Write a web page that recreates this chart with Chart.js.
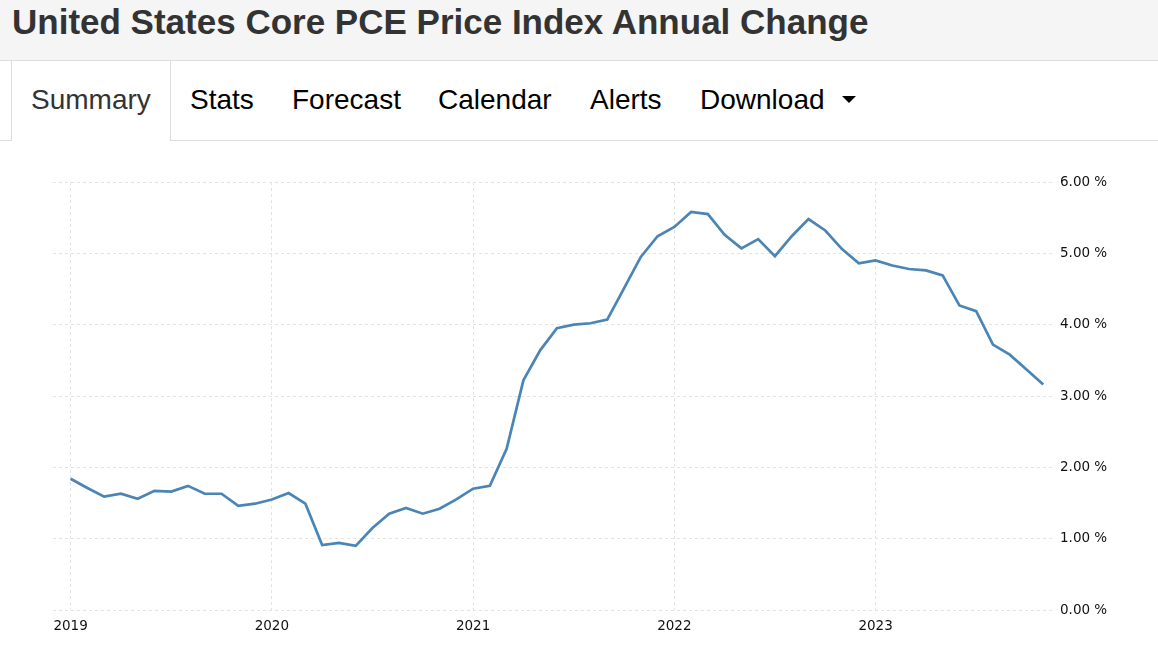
<!DOCTYPE html>
<html lang="en">
<head>
    <meta charset="UTF-8">
    <title>United States Core PCE Price Index Annual Change</title>
    <script src="https://cdn.jsdelivr.net/npm/chart.js"></script>
    <style>
        body, html {
            margin: 0;
            padding: 0;
            width: 1158px;
            height: 649px;
            overflow: hidden;
            background: #fff;
            font-family: Arial, "Liberation Sans", sans-serif;
        }
        .header {
            position: absolute; left: 0; top: 0; width: 1158px; height: 60px;
            background: #f5f5f5; border-bottom: 1px solid #ddd;
        }
        .header h1 {
            margin: 0; position: absolute; left: 12px; top: 2px;
            font-size: 35px; font-weight: bold; color: #333; white-space: nowrap;
        }
        .tabs {
            position: absolute; left: 0; top: 61px; width: 1158px; height: 79px;
            border-bottom: 1px solid #ddd;
        }
        .tab {
            position: absolute; top: 23px; font-size: 28px; color: #000; white-space: nowrap;
        }
        .tab.active {
            top: 0; left: 11px; width: 160px; height: 80px; background: #fff;
            border-left: 1px solid #ddd; border-right: 1px solid #ddd;
            color: #333; box-sizing: border-box;
        }
        .tab.active span { position: absolute; left: 19px; top: 23px; }
        .caret {
            display: inline-block; width: 0; height: 0; margin-left: 17px; vertical-align: 6px;
            border-left: 7px solid transparent; border-right: 7px solid transparent; border-top: 7px solid #000;
        }
        #wrap { position: absolute; left: 0; top: 150px; width: 1158px; height: 499px; }
    </style>
</head>
<body>
    <div class="header"><h1>United States Core PCE Price Index Annual Change</h1></div>
    <div class="tabs">
        <div class="tab active"><span>Summary</span></div>
        <div class="tab" style="left:190px">Stats</div>
        <div class="tab" style="left:292px">Forecast</div>
        <div class="tab" style="left:438px">Calendar</div>
        <div class="tab" style="left:590px">Alerts</div>
        <div class="tab" style="left:700px">Download<span class="caret"></span></div>
    </div>
    <div id="wrap"><canvas id="pceChart"></canvas></div>

    <script>
        // monthly, Jan 2019 .. Nov 2023
        const startYear = 2019;
        const yearTicks = [2019, 2020, 2021, 2022, 2023];
        const corePce = [
            1.84, 1.71, 1.59, 1.63, 1.56, 1.67, 1.66, 1.74, 1.63, 1.63, 1.46, 1.49,
            1.55, 1.64, 1.49, 0.91, 0.94, 0.90, 1.15, 1.35, 1.43, 1.35, 1.42, 1.55,
            1.70, 1.74, 2.26, 3.22, 3.64, 3.95, 4.00, 4.02, 4.07, 4.51, 4.95, 5.24,
            5.37, 5.58, 5.55, 5.26, 5.07, 5.20, 4.96, 5.24, 5.48, 5.32, 5.06, 4.86,
            4.90, 4.83, 4.78, 4.76, 4.69, 4.27, 4.19, 3.72, 3.58, 3.37, 3.16
        ];
        const yTicks = [0, 1, 2, 3, 4, 5, 6];

        const points = corePce.map((v, i) => ({ x: i, y: v }));
        const gridColor = '#e3e3e3';
        const tickFont = { family: '"DejaVu Sans", Verdana, sans-serif', size: 13.5 };

        const ctx = document.getElementById('pceChart').getContext('2d');
        new Chart(ctx, {
            type: 'line',
            data: {
                datasets: [{
                    label: 'Core PCE Price Index Annual Change',
                    data: points,
                    borderColor: '#4a85b5',
                    borderWidth: 2.7,
                    pointRadius: 0,
                    tension: 0,
                    fill: false
                }]
            },
            options: {
                animation: false,
                responsive: true,
                maintainAspectRatio: false,
                layout: { padding: { left: 53, top: 32, right: 0, bottom: 0 } },
                scales: {
                    x: {
                        type: 'linear',
                        min: -1.05,
                        max: 58.7,
                        afterBuildTicks: s => { s.ticks = yearTicks.map(y => ({ value: (y - startYear) * 12 })); },
                        afterFit: s => { s.height = 39; },
                        ticks: {
                            callback: v => String(startYear + Math.round(v / 12)),
                            color: '#111',
                            font: tickFont,
                            padding: 8,
                            maxRotation: 0
                        },
                        grid: { color: gridColor, drawTicks: false },
                        border: { display: false, dash: [3, 3] }
                    },
                    y: {
                        position: 'right',
                        min: 0,
                        max: 6,
                        afterBuildTicks: s => { s.ticks = yTicks.map(v => ({ value: v })); },
                        afterFit: s => { s.width = 103; },
                        ticks: {
                            callback: v => v.toFixed(2) + ' %',
                            color: '#111',
                            font: tickFont,
                            padding: 5
                        },
                        grid: { color: gridColor, drawTicks: false },
                        border: { display: false, dash: [3, 3] }
                    }
                },
                plugins: {
                    legend: { display: false },
                    tooltip: { enabled: false }
                }
            }
        });
    </script>
</body>
</html>
